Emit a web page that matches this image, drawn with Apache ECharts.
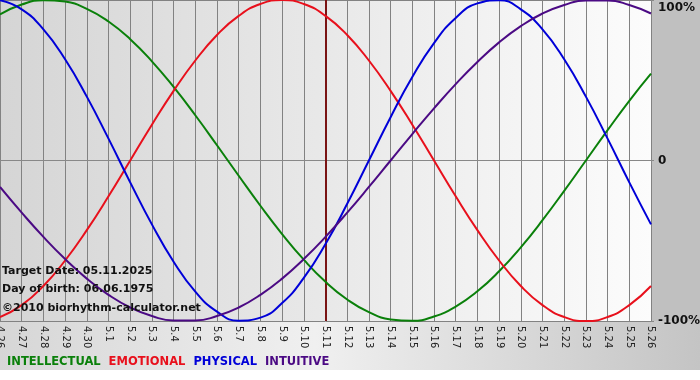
<!DOCTYPE html>
<html>
<head>
<meta charset="utf-8">
<script src="https://cdn.jsdelivr.net/npm/echarts@6/dist/echarts.min.js"></script>
<style>
  html, body { margin: 0; padding: 0; background: #fff; }
  #chart { width: 700px; height: 380px; }
</style>
</head>
<body>
<div id="chart"></div>
<script>
const days = ['4.26','4.27','4.28','4.29','4.30','5.1','5.2','5.3','5.4','5.5','5.6','5.7','5.8','5.9','5.10','5.11','5.12','5.13','5.14','5.15','5.16','5.17','5.18','5.19','5.20','5.21','5.22','5.23','5.24','5.25','5.26'];
const intellectual = [91.0,97.2,99.9,99.0,94.5,86.6,75.6,61.8,45.8,28.2,9.5,-9.5,-28.2,-45.8,-61.8,-75.6,-86.6,-94.5,-99.0,-99.9,-97.2,-91.0,-81.5,-69.0,-54.1,-37.2,-18.9,0,18.9,37.2,54.1];
const emotional = [-97.5,-90.1,-78.2,-62.3,-43.4,-22.3,0,22.3,43.4,62.3,78.2,90.1,97.5,100,97.5,90.1,78.2,62.3,43.4,22.3,0,-22.3,-43.4,-62.3,-78.2,-90.1,-97.5,-100,-97.5,-90.1,-78.2];
const physical = [99.8,94.2,81.7,63.1,39.8,13.6,-13.6,-39.8,-63.1,-81.7,-94.2,-99.8,-97.9,-88.8,-73.1,-52.0,-27.0,0,27.0,52.0,73.1,88.8,97.9,99.8,94.2,81.7,63.1,39.8,13.6,-13.6,-39.8];
const intuitive = [-16.5,-32.5,-47.6,-61.4,-73.6,-83.7,-91.6,-96.9,-99.7,-99.7,-96.9,-91.6,-83.7,-73.6,-61.4,-47.6,-32.5,-16.5,0,16.5,32.5,47.6,61.4,73.6,83.7,91.6,96.9,99.7,99.7,96.9,91.6];
const targetDay = '5.11';
const seriesNames = ['INTELLECTUAL','EMOTIONAL','PHYSICAL','INTUITIVE'];
const seriesColors = ['#0a800a','#e8101c','#0000d8','#4b0a84'];
const infoLines = ['Target Date: 05.11.2025','Day of birth: 06.06.1975','©2010 biorhythm-calculator.net'];

const FONT = 'DejaVu Sans';
const chart = echarts.init(document.getElementById('chart'), null, {renderer: 'canvas'});
const values = [intellectual, emotional, physical, intuitive];

const series = seriesNames.map((n, i) => ({
  name: n,
  type: 'line',
  data: values[i],
  smooth: true,
  symbol: 'none',
  lineStyle: { color: seriesColors[i], width: 2 },
  itemStyle: { color: seriesColors[i] },
  z: 3
}));
series[0].markLine = {
  silent: true,
  symbol: 'none',
  label: { show: false },
  lineStyle: { color: '#7a1414', width: 2, type: 'solid' },
  data: [{ xAxis: targetDay }],
  z: 2
};

chart.setOption({
  animation: false,
  backgroundColor: '#ffffff',
  textStyle: { fontFamily: FONT },
  graphic: {
    elements: [
      { type: 'rect', z: -20, silent: true, shape: { x: 0, y: 0, width: 700, height: 370 },
        style: { fill: new echarts.graphic.LinearGradient(0, 0, 1, 0, [
          { offset: 0, color: '#d6d6d6' }, { offset: 0.45, color: '#f0f0f0' }, { offset: 1, color: '#c4c4c4' }]) } },
      { type: 'rect', z: -19, silent: true, shape: { x: 651, y: 0, width: 49, height: 321 },
        style: { fill: '#c0c0c0' } },
      { type: 'text', left: 2, top: 266, z: 100, style: { text: infoLines[0], font: 'bold 11px "DejaVu Sans"', fill: '#111' } },
      { type: 'text', left: 2, top: 284, z: 100, style: { text: infoLines[1], font: 'bold 11px "DejaVu Sans"', fill: '#111' } },
      { type: 'text', left: 2, top: 303, z: 100, style: { text: infoLines[2], font: 'bold 11px "DejaVu Sans"', fill: '#111' } }
    ]
  },
  grid: {
    left: 0, right: 49, top: 0, bottom: 59,
    containLabel: false,
    outerBoundsMode: 'none',
    show: true,
    borderWidth: 0,
    backgroundColor: new echarts.graphic.LinearGradient(0, 0, 1, 0, [
      { offset: 0, color: '#d5d5d5' }, { offset: 1, color: '#fcfcfc' }])
  },
  legend: {
    left: 2, top: 356,
    padding: 0,
    icon: 'none',
    itemWidth: 0, itemHeight: 0,
    itemGap: 3,
    selectedMode: false,
    data: seriesNames.map((n, i) => ({ name: n, textStyle: { color: seriesColors[i] } })),
    textStyle: { fontFamily: FONT, fontWeight: 'bold', fontSize: 11.5, padding: 0 }
  },
  xAxis: {
    type: 'category',
    data: days,
    boundaryGap: false,
    axisLine: { show: true, lineStyle: { color: '#888', width: 1 } },
    axisTick: { show: true, length: 5, lineStyle: { color: '#888' } },
    splitLine: { show: true, lineStyle: { color: '#828282', width: 1 } },
    axisLabel: { rotate: -90, fontSize: 10, color: '#222', margin: 5, fontFamily: FONT, interval: 0 }
  },
  yAxis: {
    type: 'value',
    position: 'right',
    min: -100, max: 100, interval: 100,
    axisLine: { show: false },
    axisTick: { show: true, length: 3, lineStyle: { color: '#888' } },
    splitLine: { show: true, lineStyle: { color: '#828282', width: 1 } },
    axisLabel: {
      margin: 7,
      color: '#111',
      fontFamily: FONT,
      fontWeight: 'bold',
      fontSize: 12,
      formatter: v => v === 100 ? '{top|100%}' : (v === 0 ? '0' : v + '%'),
      rich: { top: { fontFamily: FONT, fontWeight: 'bold', fontSize: 12, color: '#111', padding: [15, 0, 0, 0] } }
    }
  },
  series: series
});
</script>
</body>
</html>
